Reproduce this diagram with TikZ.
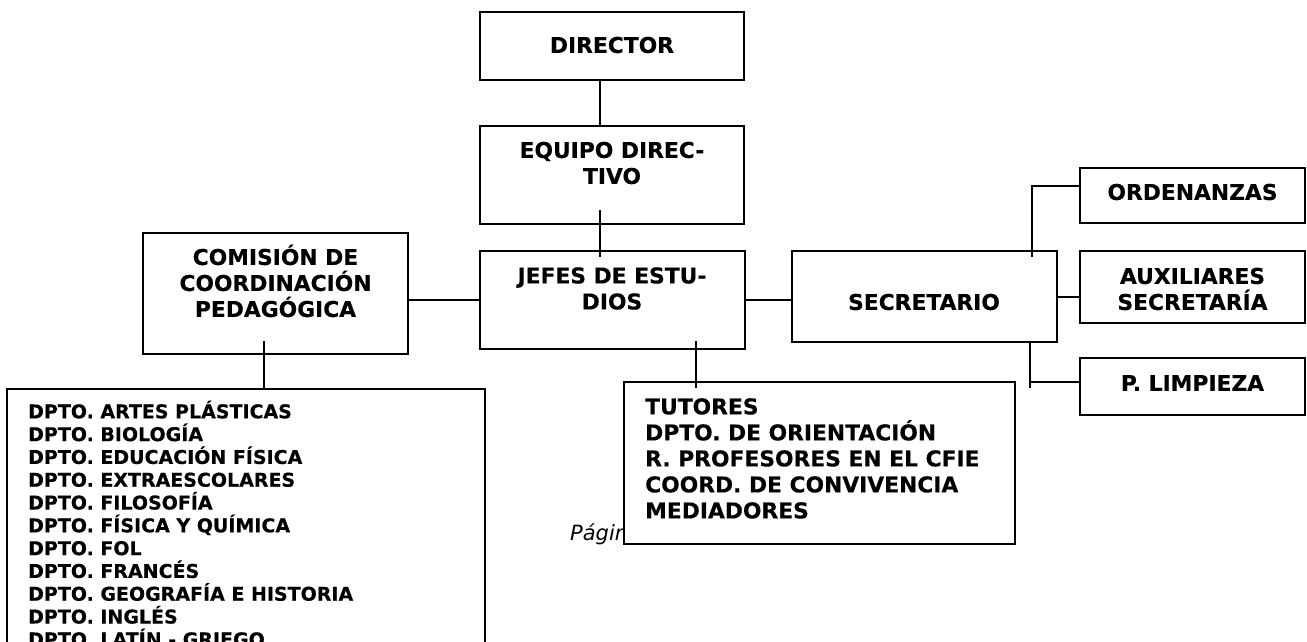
\documentclass[tikz,border=0pt]{standalone}
\usepackage{fontspec}
\setmainfont{DejaVu Sans}[BoldFeatures={FakeBold=0.3}]
\usetikzlibrary{calc}
\tikzset{
  box/.style={draw, line width=2pt, rectangle, inner sep=0pt, outer sep=0pt, fill=white},
  lbl/.style={font=\bfseries\fontsize{21.8}{26}\selectfont, align=center, inner sep=0pt},
  lst/.style={font=\bfseries\fontsize{19}{22.8}\selectfont, align=left, inner sep=0pt, anchor=north west},
  conn/.style={line width=2pt},
  pagestyle/.style={font=\itshape\fontsize{21}{25}\selectfont, anchor=base west, inner sep=0pt},
}
\begin{document}
\begin{tikzpicture}[x=1pt,y=-1pt]
\useasboundingbox (0,0) rectangle (1307,641);
\clip (0,0) rectangle (1307,641);
\node[pagestyle] (pag) at (570,540) {Página};
% boxes
\node[box, minimum width=264pt, minimum height=68pt] (dir) at (612,46) {};
\node[box, minimum width=264pt, minimum height=98pt] (eq) at (612,175) {};
\node[box, minimum width=265pt, minimum height=98pt] (jef) at (612.5,300) {};
\node[box, minimum width=265pt, minimum height=121pt] (com) at (275.5,293.5) {};
\node[box, minimum width=265pt, minimum height=91pt] (sec) at (924.5,296.5) {};
\node[box, minimum width=225pt, minimum height=55pt] (ord) at (1192.5,195.5) {};
\node[box, minimum width=225pt, minimum height=72pt] (aux) at (1192.5,287) {};
\node[box, minimum width=225pt, minimum height=57pt] (lim) at (1192.5,386.5) {};
\node[box, minimum width=391pt, minimum height=162pt] (tut) at (819.5,463) {};
\node[box, minimum width=478pt, minimum height=331pt] (dpt) at (246,554.5) {};
% texts
\node[lbl] (tdir) at (612,45) {DIRECTOR};
\node[lbl] (teq) at (612,163) {EQUIPO DIREC-\\TIVO};
\node[lbl] (tjef) at (612,288.5) {JEFES DE ESTU-\\DIOS};
\node[lbl] (tcom) at (275.5,281) {COMISIÓN DE\\COORDINACIÓN\\PEDAGÓGICA};
\node[lbl] (tsec) at (924,302) {SECRETARIO};
\node[lbl] (tord) at (1192.5,192) {ORDENANZAS};
\node[lbl] (taux) at (1192.5,289) {AUXILIARES\\SECRETARÍA};
\node[lbl] (tlim) at (1192.5,383) {P. LIMPIEZA};
\node[lbl, align=left, anchor=north west] (ttut) at (645,398) {TUTORES\\DPTO. DE ORIENTACIÓN\\R. PROFESORES EN EL CFIE\\COORD. DE CONVIVENCIA\\MEDIADORES};
\node[lst] (tdpt) at (28,400.5) {DPTO. ARTES PLÁSTICAS\\DPTO. BIOLOGÍA\\DPTO. EDUCACIÓN FÍSICA\\DPTO. EXTRAESCOLARES\\DPTO. FILOSOFÍA\\DPTO. FÍSICA Y QUÍMICA\\DPTO. FOL\\DPTO. FRANCÉS\\DPTO. GEOGRAFÍA E HISTORIA\\DPTO. INGLÉS\\DPTO. LATÍN - GRIEGO};
% connectors
\draw[conn] ([xshift=-12pt]dir.south) -- ([xshift=-12pt]eq.north);
\draw[conn] ([xshift=-12pt,yshift=14pt]eq.south) -- ([xshift=-12.5pt,yshift=-6pt]jef.north);
\draw[conn] (jef.west) -- (jef.west -| com.east);
\draw[conn] (jef.east) -- (jef.east -| sec.west);
\draw[conn] ([xshift=83.5pt,yshift=8pt]jef.south) coordinate (j1) -- ($(j1 |- tut.north)+(0,6)$);
\draw[conn] ([xshift=-11.5pt,yshift=13pt]com.south) coordinate (c1) -- (c1 |- dpt.north);
\coordinate (o1) at ($(ord.west)+(0,-9.5)$);
\draw[conn] ([xshift=107.5pt,yshift=-6pt]sec.north) coordinate (s1) -- (s1 |- o1) -- (o1);
\draw[conn] (sec.east) -- (sec.east -| aux.west);
\coordinate (l1) at ($(lim.west)+(0,-4.5)$);
\draw[conn] ([xshift=105.5pt]sec.south) coordinate (s2) -- ($(s2 |- l1)+(0,6)$);
\draw[conn] (s2 |- l1) -- (l1);
\end{tikzpicture}
\end{document}
